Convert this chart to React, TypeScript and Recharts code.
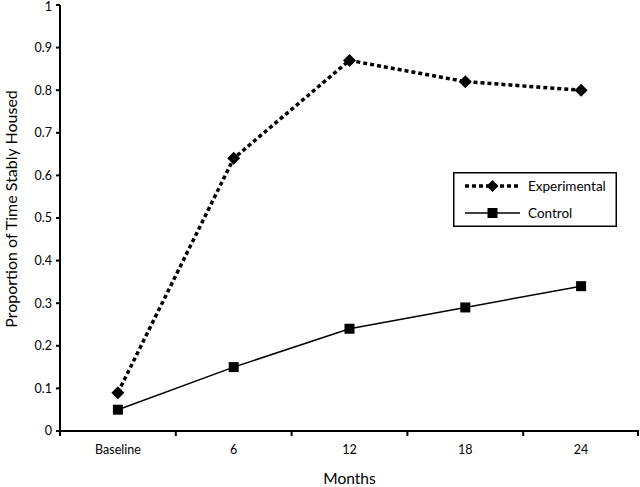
import React from 'react';
import { LineChart, Line, XAxis, YAxis, Legend, Label } from 'recharts';

const categories = ['Baseline', '6', '12', '18', '24'];
const experimental = [0.09, 0.64, 0.87, 0.82, 0.8];
const control = [0.05, 0.15, 0.24, 0.29, 0.34];
const yTicks = [0, 0.1, 0.2, 0.3, 0.4, 0.5, 0.6, 0.7, 0.8, 0.9, 1];
const seriesNames = ['Experimental', 'Control'];
const xTitle = 'Months';
const yTitle = 'Proportion of Time Stably Housed';

const data = categories.map((c, i) => ({
  month: c,
  experimental: experimental[i],
  control: control[i],
}));

const FONT = 'Lato, sans-serif';
const W = 640;
const H = 487;
const MARGIN = { top: 5, right: 1, bottom: 0, left: 0 };
const Y_W = 60;
const X_H = 56;
const PLOT_W = W - MARGIN.left - MARGIN.right - Y_W;
const HALF = PLOT_W / categories.length / 2;
const TICK_SIZE = 4;
const TICK_MARGIN = 10;

const diamondPath = (cx: number, cy: number, r: number) =>
  `M${cx},${cy - r}L${cx + r},${cy}L${cx},${cy + r}L${cx - r},${cy}Z`;

const DiamondDot = (props: any) => {
  const { cx, cy, index } = props;
  if (cx == null || cy == null) return <g key={`d${index}`} />;
  return <path key={`d${index}`} d={diamondPath(cx, cy, 6.5)} fill="#000" stroke="none" />;
};

const SquareDot = (props: any) => {
  const { cx, cy, index } = props;
  if (cx == null || cy == null) return <g key={`s${index}`} />;
  return <rect key={`s${index}`} x={cx - 5} y={cy - 5} width={10} height={10} fill="#000" />;
};

const XTick = (props: any) => {
  const { x, y, payload, index } = props;
  const axisY = y - TICK_SIZE - TICK_MARGIN;
  const last = index === categories.length - 1;
  return (
    <g>
      <line x1={x - HALF} y1={axisY} x2={x - HALF} y2={axisY + 5} stroke="#000" strokeWidth={2} />
      {last && (
        <line x1={x + HALF - 1} y1={axisY} x2={x + HALF - 1} y2={axisY + 5} stroke="#000" strokeWidth={2} />
      )}
      <text x={x} y={y} dy="0.71em" textAnchor="middle" fontFamily={FONT} fontSize={12.5} fill="#000">
        {payload.value}
      </text>
    </g>
  );
};

const YTick = (props: any) => {
  const { x, y, payload } = props;
  const ty = Math.max(y, 7);
  return (
    <text x={x} y={ty} dy="0.355em" textAnchor="end" fontFamily={FONT} fontSize={12.5} fill="#000">
      {payload.value}
    </text>
  );
};

const renderYTitle = (props: any) => {
  const vb = props.viewBox || { x: 0, y: MARGIN.top, width: Y_W, height: H - X_H - MARGIN.top };
  const cx = vb.x + 10;
  const cy = vb.y + vb.height / 2 - 9;
  return (
    <text
      transform={`translate(${cx},${cy}) rotate(-90)`}
      textAnchor="middle"
      dominantBaseline="central"
      fontFamily={FONT}
      fontSize={16}
      fill="#000"
    >
      {yTitle}
    </text>
  );
};

const renderXTitle = (props: any) => {
  const vb = props.viewBox || { x: Y_W, y: H - X_H, width: PLOT_W, height: X_H };
  return (
    <text
      x={vb.x + vb.width / 2}
      y={vb.y + 53}
      textAnchor="middle"
      fontFamily={FONT}
      fontSize={15.5}
      fill="#000"
    >
      {xTitle}
    </text>
  );
};

const renderLegend = () => {
  const bw = 164;
  const bh = 55;
  const rows = [14, 41];
  return (
    <svg width={bw} height={bh} style={{ display: 'block' }}>
      <rect x={0.75} y={0.75} width={bw - 1.5} height={bh - 1.5} fill="#fff" stroke="#000" strokeWidth={1.5} />
      <line x1={12} y1={rows[0]} x2={67} y2={rows[0]} stroke="#000" strokeWidth={3.5} strokeDasharray="4 3" />
      <path d={diamondPath(39.5, rows[0], 6)} fill="#000" />
      <text x={75} y={rows[0]} dominantBaseline="central" fontFamily={FONT} fontSize={13.5} fill="#000">
        {seriesNames[0]}
      </text>
      <line x1={12} y1={rows[1]} x2={67} y2={rows[1]} stroke="#000" strokeWidth={1.5} />
      <rect x={34.5} y={rows[1] - 5} width={10} height={10} fill="#000" />
      <text x={75} y={rows[1]} dominantBaseline="central" fontFamily={FONT} fontSize={13.5} fill="#000">
        {seriesNames[1]}
      </text>
    </svg>
  );
};

export default function App() {
  return (
    <div style={{ position: 'absolute', left: 0, top: 0, width: W, height: H, background: '#fff' }}>
      <LineChart width={W} height={H} data={data} margin={MARGIN}>
        <XAxis
          dataKey="month"
          type="category"
          padding={{ left: HALF, right: HALF }}
          height={X_H}
          interval={0}
          tickLine={false}
          tickSize={TICK_SIZE}
          tickMargin={TICK_MARGIN}
          axisLine={{ stroke: '#000', strokeWidth: 2 }}
          tick={<XTick />}
        >
          <Label content={renderXTitle} />
        </XAxis>
        <YAxis
          type="number"
          domain={[0, 1]}
          ticks={yTicks}
          interval={0}
          width={Y_W}
          tickSize={TICK_SIZE}
          tickMargin={4}
          axisLine={{ stroke: '#000', strokeWidth: 2 }}
          tickLine={{ stroke: '#000', strokeWidth: 2 }}
          tick={<YTick />}
        >
          <Label content={renderYTitle} />
        </YAxis>
        <Legend
          layout="horizontal"
          verticalAlign="middle"
          align="center"
          content={renderLegend}
          wrapperStyle={{ left: 453, top: 172, width: 164, height: 55 }}
        />
        <Line
          type="linear"
          dataKey="experimental"
          name={seriesNames[0]}
          stroke="#000"
          strokeWidth={3.5}
          strokeDasharray="4 3"
          dot={DiamondDot}
          activeDot={false}
          isAnimationActive={false}
        />
        <Line
          type="linear"
          dataKey="control"
          name={seriesNames[1]}
          stroke="#000"
          strokeWidth={1.5}
          dot={SquareDot}
          activeDot={false}
          isAnimationActive={false}
        />
      </LineChart>
    </div>
  );
}
